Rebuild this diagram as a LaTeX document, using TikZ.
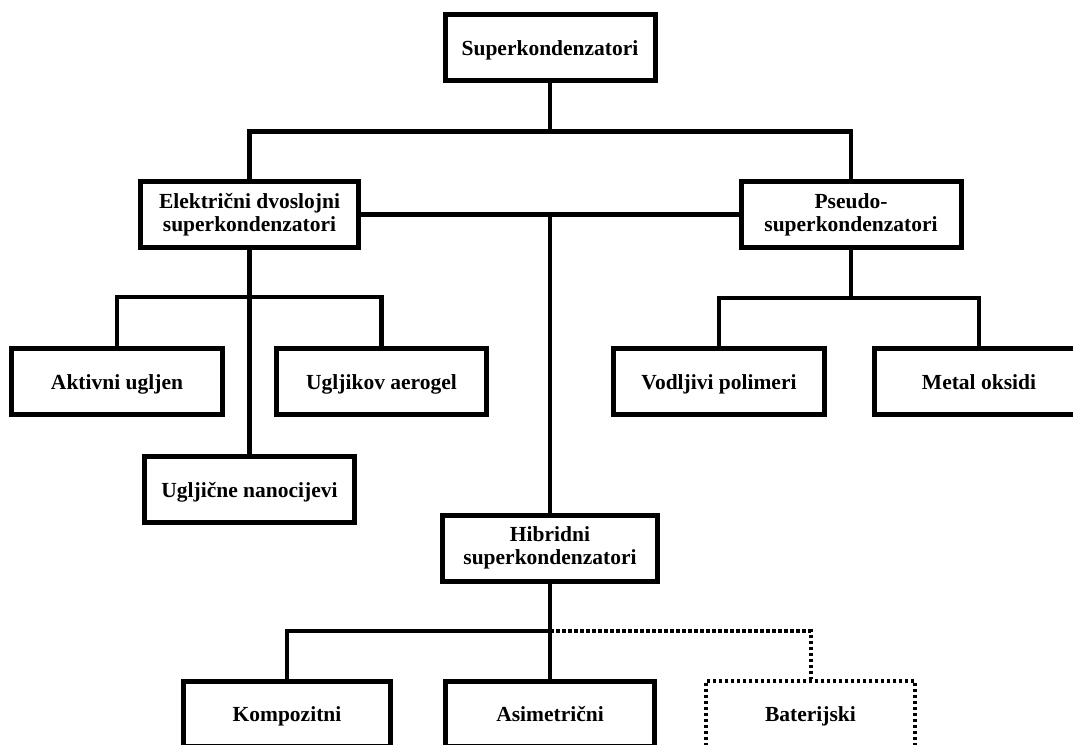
\documentclass[tikz,border=0pt]{standalone}
\usepackage{fontspec}
\setmainfont{Liberation Serif}
\begin{document}
\begin{tikzpicture}[x=1pt,y=-1pt,
  box/.style={draw=black, line width=5pt, fill=white, align=center, inner sep=0pt,
    font=\bfseries\fontsize{21.5}{23}\selectfont, minimum height=66pt},
  one/.style={text height=16pt, text depth=0pt},
  conn/.style={draw=black, line width=4.4pt},
  dotconn/.style={draw=black, line width=4pt, dash pattern=on 3.5pt off 2.5pt},
  dotbox/.style={box, dash pattern=on 3.5pt off 2.5pt, line width=4pt}]
\useasboundingbox (0,0) rectangle (1073,744);
\clip (0,0) rectangle (1073,744);
\fill[white] (0,0) rectangle (1073,744);

\node[box, one, minimum width=210pt, minimum height=65.5pt] (top) at (550,47.25) {Superkondenzatori};
\node[box, minimum width=218pt, minimum height=66pt] (edlc) at (249.5,214.5) {Električni dvoslojni\\superkondenzatori};
\node[box, minimum width=220pt, minimum height=66pt] (pseudo) at (851,214.5) {Pseudo-\\superkondenzatori};
\node[box, one, minimum width=210.5pt] (aktivni) at (117,381) {Aktivni ugljen};
\node[box, one, minimum width=210pt] (ugljikov) at (381.5,381) {Ugljikov aerogel};
\node[box, one, minimum width=210pt] (ugljicne) at (249.5,489.5) {Ugljične nanocijevi};
\node[box, one, minimum width=210.5pt] (vodljivi) at (719,381) {Vodljivi polimeri};
\node[box, one, minimum width=210pt] (metal) at (979,381) {Metal oksidi};
\node[box, minimum width=215pt, minimum height=66.5pt] (hybrid) at (550,548.25) {Hibridni\\superkondenzatori};
\node[box, one, minimum width=207pt, minimum height=65.5pt] (kompozitni) at (287,713.75) {Kompozitni};
\node[box, one, minimum width=208.5pt, minimum height=65.5pt] (asim) at (550,713.75) {Asimetrični};
\node[dotbox, one, minimum width=209.5pt, minimum height=65.5pt] (bater) at (810.5,713.75) {Baterijski};

\coordinate (j1) at (550,131.5);
\coordinate (j2) at (550,214.5);
\coordinate (j3) at (249.5,297);
\coordinate (j4) at (851,298);
\coordinate (j5) at (550,631);

\draw[conn] (top.south) -- (j1);
\draw[conn] (edlc.north) |- (j1) -| (pseudo.north);
\draw[conn] (edlc.east) -- (pseudo.west);
\draw[conn] (j2) -- (hybrid.north);
\draw[conn] (edlc.south) -- (ugljicne.north);
\draw[conn] (aktivni.north) |- (j3) -| (ugljikov.north);
\draw[conn] (pseudo.south) -- (j4);
\draw[conn] (vodljivi.north) |- (j4) -| (metal.north);
\draw[conn] (hybrid.south) -- (asim.north);
\draw[conn] (kompozitni.north) |- (j5);
\draw[dotconn] (j5) -| (bater.north);
\end{tikzpicture}
\end{document}
